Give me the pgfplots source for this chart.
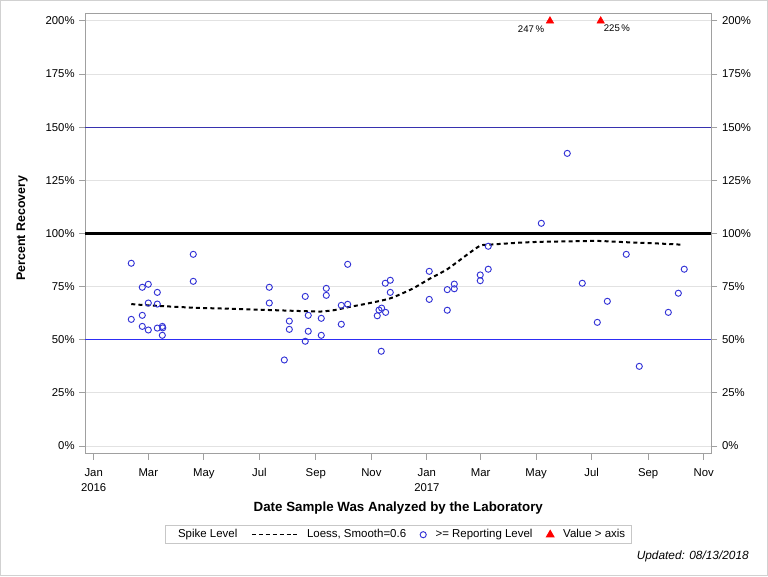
\documentclass[border=0pt]{standalone}
\usepackage{fontspec}
\setmainfont{Liberation Sans}
\usepackage{pgfplots}
\usepackage{pgfplotstable}
\pgfplotsset{compat=1.18}

\definecolor{refblue}{RGB}{45,45,245}
\definecolor{refnavy}{RGB}{55,50,175}
\definecolor{markblue}{RGB}{51,51,214}
\definecolor{gridgray}{RGB}{226,226,226}
\definecolor{framegray}{RGB}{160,160,160}

% Recovery per sample: days since 1 Jan 2016, percent recovery
\pgfplotstableread{
day pct
41.3 86.0
41.3 59.6
53.4 74.7
53.4 61.5
53.4 56.3
60.0 76.1
60.0 67.3
60.0 54.6
69.9 72.3
69.9 66.8
69.9 55.5
75.4 56.3
75.9 55.6
75.4 52.1
109.4 90.2
109.4 77.5
192.9 74.7
192.9 67.3
209.4 40.5
214.9 58.8
214.9 54.9
232.4 70.4
232.4 49.3
235.7 61.5
235.7 54.0
250.0 60.1
250.0 52.1
255.5 74.2
255.5 70.9
272.0 66.2
272.0 57.3
279.0 85.5
279.0 66.7
311.5 61.3
313.4 64.0
316.3 64.9
315.9 44.6
320.7 62.9
320.3 76.6
325.8 78.0
325.8 72.3
368.6 82.2
368.6 69.0
388.4 73.6
388.4 63.9
396.1 76.2
396.1 74.0
424.6 80.5
424.6 77.8
433.4 94.0
433.4 83.2
491.7 104.8
520.2 137.7
536.7 76.6
553.2 58.2
564.2 68.1
585.0 90.2
599.3 37.5
631.2 62.9
642.2 71.9
648.7 83.2
}\recovery

% Samples above the axis maximum
\pgfplotstableread{
day pct
501.2 247
}\overaxisA
\pgfplotstableread{
day pct
556.9 225
}\overaxisB

% Loess fit (smooth = 0.6)
\pgfplotstableread{
day pct
41.3 66.8
60.0 66.2
109.4 65.1
150.0 64.6
192.9 64.0
235.7 63.4
250.0 63.3
265.0 64.0
279.0 65.3
300.0 67.0
325.8 69.5
350.0 74.0
368.6 78.6
388.4 83.2
409.7 89.9
424.6 94.3
433.4 94.7
468.3 95.7
491.7 96.1
520.0 96.3
553.2 96.5
585.0 95.9
620.0 95.3
647.6 94.7
}\loess

\pgfplotsset{
  overaxis/.style={only marks, mark=triangle*, red, mark size=3.2pt, forget plot,
    point meta=explicit,
    nodes near coords={\pgfmathprintnumber[assume math mode=true]{\pgfplotspointmeta}\,\%},
    every node near coord/.style={font=\fontsize{7.2}{8}\selectfont, black, inner sep=0pt, yshift=-5.8pt}},
}

\begin{document}
\begin{tikzpicture}
\begin{scope}[x=0.75pt,y=0.75pt]
  \path[use as bounding box] (0,0) rectangle (768,576);
  \draw[black!18, line width=0.75pt] (0.5,0.5) rectangle (767.5,575.5);
  \node[anchor=east, font=\itshape\fontsize{8.9}{10}\selectfont, inner sep=0pt]
    at (749,19.3) {Updated: 08/13/2018};
\end{scope}

\begin{axis}[
  at={(63.975pt,91.725pt)}, anchor=south west,
  scale only axis, width=469.5pt, height=330.3pt,
  xmin=-9.2, xmax=678.4, ymin=-3.6, ymax=203.6,
  axis line style={framegray, line width=0.75pt},
  tick style={framegray, line width=0.75pt},
  tick align=outside, major tick length=4.5pt,
  xtick pos=bottom, ytick pos=left,
  xtick={0,60,121,182,244,305,366,425,486,547,609,670},
  xticklabels={{Jan\\2016},Mar,May,Jul,Sep,Nov,{Jan\\2017},Mar,May,Jul,Sep,Nov},
  ytick={0,25,...,200},
  yticklabels={0\%,25\%,50\%,75\%,100\%,125\%,150\%,175\%,200\%},
  ymajorgrids, grid style={gridgray, line width=0.75pt},
  tick label style={font=\fontsize{8.5}{11.25}\selectfont},
  xticklabel style={align=center, yshift=-3.2pt},
  xlabel={Date Sample Was Analyzed by the Laboratory},
  ylabel={Percent Recovery},
  xlabel style={font=\bfseries\fontsize{10}{11}\selectfont,
    at={(axis description cs:0.5,-0.1233)}, anchor=center},
  ylabel style={font=\bfseries\fontsize{9.3}{11}\selectfont,
    at={(axis description cs:-0.1010,0.512)}, anchor=center},
  clip=false,
  legend columns=-1,
  legend cell align=left,
  legend style={
    at={(axis description cs:0.5,-0.162)}, anchor=north,
    draw=black!22, line width=0.75pt,
    font=\fontsize{8.6}{9}\selectfont,
    inner xsep=2.5pt, inner ysep=1pt,
    /tikz/every odd column/.append style={column sep=5pt},
    /tikz/every even column/.append style={column sep=8.5pt},
  },
]
% reference lines
\addplot[refnavy, line width=0.8pt, forget plot] coordinates {(-9.2,150) (678.4,150)};
\addplot[black, line width=1.6pt, forget plot] coordinates {(-9.2,100) (678.4,100)};
\addplot[refblue, line width=0.8pt, forget plot] coordinates {(-9.2,50) (678.4,50)};

% loess fit
\addplot[black, line width=1.5pt, dash pattern=on 3pt off 2.4pt, smooth, tension=0.4, forget plot]
  table[x=day, y=pct] {\loess};

% samples
\addplot[only marks, mark=o, markblue, mark size=2.3pt, mark options={line width=0.7pt}, forget plot]
  table[x=day, y=pct] {\recovery};

% values beyond the axis, pinned at its top
\addplot[overaxis, every node near coord/.append style={anchor=east, xshift=-4.2pt}]
  table[x=day, y expr={min(\thisrow{pct},200)}, meta=pct] {\overaxisA};
\addplot[overaxis, every node near coord/.append style={anchor=west, xshift=2.2pt}]
  table[x=day, y expr={min(\thisrow{pct},200)}, meta=pct] {\overaxisB};

% legend
\addlegendimage{empty legend}
\addlegendentry{Spike Level\hspace{13pt}}
\addlegendimage{black, line width=0.75pt, dash pattern=on 3pt off 2.2pt,
  legend image code/.code={\draw (0pt,0pt) -- (34pt,0pt);}}
\addlegendentry{Loess, Smooth=0.6}
\addlegendimage{only marks, mark=o, markblue, mark size=2.3pt, mark options={line width=0.7pt},
  legend image code/.code={\draw plot coordinates {(0pt,0pt)};}}
\addlegendentry{>= Reporting Level}
\addlegendimage{only marks, mark=triangle*, red, mark size=3.2pt,
  legend image code/.code={\draw plot coordinates {(0pt,0pt)};}}
\addlegendentry{Value > axis}
\end{axis}

\begin{axis}[
  at={(63.975pt,91.725pt)}, anchor=south west,
  scale only axis, width=469.5pt, height=330.3pt,
  xmin=-9.2, xmax=678.4, ymin=-3.6, ymax=203.6,
  hide x axis,
  axis y line*=right,
  axis line style={framegray, line width=0.75pt, -},
  tick style={framegray, line width=0.75pt},
  tick align=outside, major tick length=4.5pt,
  ytick={0,25,...,200},
  yticklabels={0\%,25\%,50\%,75\%,100\%,125\%,150\%,175\%,200\%},
  tick label style={font=\fontsize{8.5}{11.25}\selectfont},
]
\addplot[draw=none] coordinates {(0,0)};
\end{axis}
\end{tikzpicture}
\end{document}
